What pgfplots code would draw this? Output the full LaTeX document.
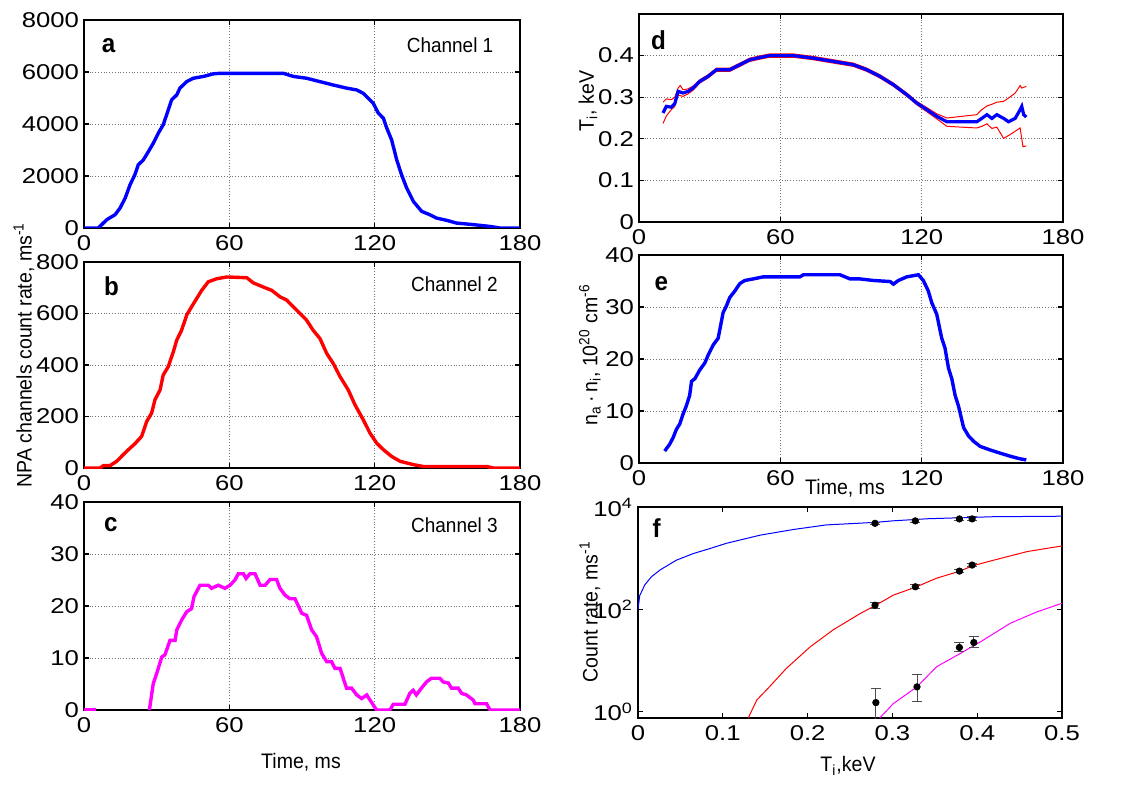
\documentclass[border=0pt]{standalone}
\usepackage{pgfplots}
\pgfplotsset{compat=1.18}
\usepackage{fontspec}
\setmainfont{Liberation Sans}[FakeStretch=0.93]
\newfontfamily\tickfont{Liberation Sans}[FakeStretch=1.2]
\definecolor{mblue}{RGB}{0,0,255}
\definecolor{mred}{RGB}{255,0,0}
\definecolor{mmag}{RGB}{255,0,255}
\pgfplotsset{
  mat/.style={
    scale only axis,
    axis line style={line width=0.7pt},
    tick style={black, line width=0.6pt},
    major tick length=2.5pt,
    tick align=inside,
    tick pos=both,
    ticklabel pos=left,
    grid=major,
    grid style={densely dotted, black!55, line width=0.45pt},
    ticklabel style={font=\tickfont\fontsize{10.7}{12}\selectfont},
    /pgf/number format/assume math mode=true,
    /pgf/number format/1000 sep={},
    scaled ticks=false,
    xtick={0,60,120,180}, xmin=0, xmax=180,
    yticklabel style={xshift=1pt},
  },
}
\newcommand{\lab}{\fontsize{10.5}{12}\selectfont}
\newcommand{\pl}{\fontsize{13}{15}\selectfont\bfseries}
\newcommand{\ch}{\fontsize{10.2}{12}\selectfont}
\begin{document}
\begin{tikzpicture}
\useasboundingbox (0,0) rectangle (567pt,-393pt);

% ---------- panel a ----------
\begin{axis}[mat, at={(42pt,-114pt)}, anchor=south west, width=218pt, height=104pt,
  ymin=0, ymax=8000, ytick={0,2000,4000,6000,8000}]
\addplot[mblue, line width=1.7pt] coordinates {
(0,0)(5.9,0)(9.4,320)(12.8,510)(14.9,770)(17,1150)(19,1660)(21,2050)(22.4,2430)(24.5,2620)
(26.6,2940)(28.6,3260)(30.7,3650)(32.7,3970)(34.1,4350)(36.2,4930)(38.3,5120)(39.6,5380)
(42.4,5630)(45.1,5760)(49.3,5830)(53.4,5930)(56.1,5950)(82.3,5950)(86.4,5830)(91.9,5760)
(97.4,5630)(102.9,5500)(108.4,5380)(112.6,5310)(115.3,5180)(119.4,4800)(121.5,4420)
(123.6,4220)(125,3840)(127,3390)(129.1,2620)(131.1,2050)(133.2,1540)(136,1020)(139.4,640)
(142.8,510)(145.6,380)(149.7,295)(153.8,190)(160.7,130)(167.6,60)(171.7,0)(180,0)};
\node[font=\pl, anchor=west] at (rel axis cs:0.025,0.875) {a};
\node[font=\ch, anchor=east] at (rel axis cs:0.955,0.88) {Channel 1};
\end{axis}

% ---------- panel b ----------
\begin{axis}[mat, at={(42pt,-234pt)}, anchor=south west, width=218pt, height=103pt,
  ymin=0, ymax=800, ytick={0,200,400,600,800}]
\addplot[mred, line width=1.7pt] coordinates {
(0,0)(6.6,0)(8,9)(10.7,9)(13.5,26)(16.2,52)(19,77)(21,94)(23.8,123)(25.9,181)(27.9,213)
(29.3,265)(31.4,303)(32.7,361)(34.8,394)(36.9,452)(38.3,497)(40.3,535)(42.4,594)(44.4,626)
(46.5,658)(48.6,690)(51.3,723)(54.8,735)(58.9,742)(67.2,739)(69.9,719)(74,703)(77.5,690)
(80.9,665)(83.7,652)(86.4,626)(89.2,600)(91.9,574)(94.6,535)(97.4,503)(100.2,445)
(102.9,406)(105.7,355)(109.1,303)(111.9,245)(115.3,187)(118.1,135)(120.8,97)(123.6,71)
(127,45)(130.5,26)(136,13)(140.1,6)(166.2,6)(169,0)(180,0)};
\node[font=\pl, anchor=west] at (rel axis cs:0.03,0.885) {b};
\node[font=\ch, anchor=east] at (rel axis cs:0.965,0.89) {Channel 2};
\end{axis}

% ---------- panel c ----------
\begin{axis}[mat, at={(42pt,-355pt)}, anchor=south west, width=218pt, height=104pt,
  ymin=0, ymax=40, ytick={0,10,20,30,40}]
\addplot[mmag, line width=1.7pt] coordinates {(0,0)(5,0)};
\addplot[mmag, line width=1.7pt] coordinates {
(27,0)(28.6,5.1)(30,7)(32.1,10.2)(33.4,10.6)(35.5,13.4)(37.6,13.4)(38.3,15.4)(40.3,17.3)
(42.4,18.9)(44.4,19.5)(45.4,21.8)(47.9,24)(51.3,24)(52.7,23.4)(55.4,24)(58.2,23.4)(60.3,24)
(62.3,25)(63.7,26.2)(65.8,26.2)(66.9,25.3)(68.5,26.2)(70.6,26.2)(72.7,24)(74.8,24)(76.8,25.1)
(79.5,25.1)(80.9,23.4)(83,22.1)(85,21.4)(87.1,21.4)(89.9,18.6)(91.9,18.2)(94,15.4)(96,14.1)
(98.1,10.9)(100.2,9.3)(102.2,9.3)(103.6,8)(105.7,8)(108.4,4.2)(110.5,4.2)(112.6,2.9)
(114.6,2.2)(116.7,2.9)(118.1,1.9)(120.8,0)(126.3,0)(127.7,1.1)(132.5,1.1)(134.5,3.2)
(135.9,3.8)(137.2,2.9)(139.3,4.2)(141.4,5.4)(143.4,6.1)(146.9,6.1)(148.3,5.4)(150.4,5.2)
(151.7,4.2)(154.5,4.2)(155.9,3.2)(157.9,2.9)(160.7,1.9)(161.4,1.2)(166.2,1.2)(167.6,0)(180,0)};
\node[font=\pl, anchor=west] at (rel axis cs:0.03,0.89) {c};
\node[font=\ch, anchor=east] at (rel axis cs:0.965,0.89) {Channel 3};
\end{axis}

% ---------- panel d ----------
\begin{axis}[mat, at={(319.5pt,-111pt)}, anchor=south west, width=212pt, height=104pt,
  ymin=0, ymax=0.5, ytick={0,0.1,0.2,0.3,0.4},
  yticklabels={0,0.1,0.2,0.3,0.4}]
\addplot[mred, line width=0.5pt] coordinates {
(10.2,0.288)(11.6,0.296)(13.7,0.294)(15.2,0.300)(16.6,0.322)(17.5,0.328)(18.7,0.318)(20.8,0.320)
(23.0,0.327)(25.8,0.342)(29.3,0.354)(32.9,0.370)(38.5,0.370)(42.8,0.382)(47.0,0.394)(52.7,0.401)
(55.5,0.404)(65.5,0.404)(74.0,0.398)(82.5,0.390)(91.0,0.382)(96.7,0.370)(102.3,0.354)(108.0,0.334)
(113.7,0.310)(117.9,0.290)(122.2,0.275)(126.4,0.260)(130.7,0.250)(143.4,0.258)(145.5,0.270)
(147.7,0.279)(149.8,0.283)(151.9,0.288)(154.8,0.290)(156.9,0.298)(159.7,0.310)(161.8,0.328)
(162.5,0.322)(164.4,0.326)};
\addplot[mred, line width=0.5pt] coordinates {
(10.2,0.237)(11.6,0.255)(13.7,0.270)(15.2,0.278)(16.6,0.305)(18.7,0.302)(20.8,0.308)(23.0,0.317)
(25.8,0.334)(29.3,0.346)(32.9,0.362)(38.5,0.362)(42.8,0.374)(47.0,0.386)(52.7,0.393)(55.5,0.396)
(65.5,0.396)(74.0,0.390)(82.5,0.382)(91.0,0.374)(96.7,0.362)(102.3,0.346)(108.0,0.326)(113.7,0.302)
(117.9,0.282)(122.2,0.265)(126.4,0.248)(130.7,0.230)(143.4,0.226)(145.5,0.230)(147.7,0.236)
(149.8,0.225)(151.9,0.228)(154.8,0.201)(156.9,0.208)(158.3,0.213)(161.8,0.226)(163.0,0.181)
(164.4,0.183)};
\addplot[mblue, line width=1.6pt] coordinates {
(10.2,0.262)(11.6,0.278)(13.7,0.276)(15.2,0.285)(16.6,0.314)(18.7,0.310)(20.8,0.314)(23.0,0.322)
(25.8,0.338)(29.3,0.350)(32.9,0.366)(38.5,0.366)(42.8,0.378)(47.0,0.390)(52.7,0.397)(55.5,0.400)
(65.5,0.400)(74.0,0.394)(82.5,0.386)(91.0,0.378)(96.7,0.366)(102.3,0.350)(108.0,0.330)(113.7,0.306)
(117.9,0.286)(122.2,0.270)(126.4,0.254)(130.7,0.241)(143.4,0.241)(145.5,0.249)(147.7,0.258)
(149.8,0.249)(151.9,0.258)(154.8,0.249)(156.9,0.241)(159.7,0.249)(161.8,0.270)(162.5,0.278)
(163.3,0.258)(164.4,0.252)};
\node[font=\pl, anchor=west] at (rel axis cs:0.012,0.875) {d};
\end{axis}

% ---------- panel e ----------
\begin{axis}[mat, at={(319.5pt,-231.5pt)}, anchor=south west, width=212pt, height=104pt,
  ymin=0, ymax=40, ytick={0,10,20,30,40}]
\addplot[mblue, line width=1.7pt] coordinates {
(10.9,2.3)(13,3.6)(14.5,4.9)(15.9,6.5)(17.3,7.5)(18.7,9.4)(20.1,11)(21.5,13)(22.3,15.7)(23.7,16.2)
(25.8,17.9)(27.9,19.2)(29.4,20.8)(31.5,22.7)(33.6,24)(35.7,28.9)(37.1,30.2)(38.5,31.8)(40.7,33.1)
(42.8,34.5)(44.9,35.1)(48.5,35.4)(52.7,35.8)(68.3,35.8)(69.8,36.2)(85.3,36.2)(89.6,35.4)
(93.8,35.4)(99.5,35.1)(106.6,34.9)(108,34.4)(110.1,35.1)(113.7,35.8)(118.6,36.2)(120.7,35.1)
(122.8,33.1)(124.3,30.8)(126.4,28.6)(128.5,24)(129.9,22.1)(131.4,18.2)(132.8,16.2)(134.2,13)
(135.6,11)(137.8,6.8)(139.9,5.2)(142,4.2)(144.8,3.2)(149.1,2.5)(153.3,1.9)(157.6,1.3)
(161.8,0.8)(164.4,0.6)};
\node[font=\pl, anchor=west] at (rel axis cs:0.02,0.86) {e};
\end{axis}

% ---------- panel f ----------
\begin{axis}[mat, at={(319pt,-359pt)}, anchor=south west, width=212pt, height=105.5pt,
  ymode=log, ymin=0.76, ymax=10000, ytick={1,100,10000},
  yticklabels={10\textsuperscript{0},10\textsuperscript{2},10\textsuperscript{4}},
  yminorticks=false, grid=none,
  xmin=0, xmax=0.5, xtick={0,0.1,0.2,0.3,0.4,0.5},
  xticklabels={0,0.1,0.2,0.3,0.4,0.5}]
\addplot[mblue, line width=0.5pt] coordinates {
(0,100)(0.002,186)(0.008,302)(0.016,437)(0.026,589)(0.045,912)(0.065,1230)(0.085,1549)
(0.104,1950)(0.144,2818)(0.183,3631)(0.222,4467)(0.28,5012)(0.301,5370)(0.341,5888)
(0.38,6166)(0.419,6457)(0.5,6607)};
\addplot[mred, line width=0.5pt] coordinates {
(0.13,0.76)(0.14,1.70)(0.155,3.09)(0.175,7.08)(0.203,18.6)(0.23,39.8)(0.262,83.2)(0.28,120)
(0.301,190)(0.328,275)(0.352,407)(0.38,562)(0.394,708)(0.419,912)(0.459,1349)(0.5,1738)};
\addplot[mmag, line width=0.5pt] coordinates {
(0.285,0.76)(0.301,1.45)(0.329,3.09)(0.352,7.59)(0.38,13.8)(0.404,23.4)(0.439,53.7)
(0.47,89.1)(0.5,132)};
\addplot[black, only marks, mark=*, mark size=1.6pt,
  error bars/.cd, y dir=both, y explicit,
  error bar style={black!70, line width=0.5pt},
  error mark options={rotate=90, mark size=2.5pt, black!70}]
  table[x=x, y=y, y error plus=ep, y error minus=em] {
x y ep em
0.2795 4800 300 300
0.327 5350 300 300
0.379 5850 300 300
0.394 5850 600 400
0.2795 121 15 15
0.327 277 25 25
0.379 560 40 40
0.394 735 40 40
0.2805 1.52 1.34 1.40
0.329 3.08 2.3 1.5
0.379 18.1 4.2 3.2
0.396 22.6 6.6 4.8
};
\node[font=\pl, anchor=west] at (rel axis cs:0.018,0.9) {f};
\end{axis}

% ---------- axis labels ----------
\node[rotate=90, font=\lab] at (12pt,-177.5pt) {NPA channels count rate, ms\textsuperscript{-1}};
\node[font=\lab] at (150.5pt,-381pt) {Time, ms};
\node[rotate=90, font=\lab] at (294pt,-50.5pt) {T\textsubscript{i}, keV};
\node[rotate=90, font=\lab] at (295pt,-177.5pt) {n\textsubscript{a}\,·\,n\textsubscript{i}, 10\textsuperscript{20} cm\textsuperscript{-6}};
\node[font=\lab] at (422.5pt,-244pt) {Time, ms};
\node[rotate=90, font=\lab] at (295pt,-306pt) {Count rate, ms\textsuperscript{-1}};
\node[font=\lab] at (424pt,-383pt) {T\textsubscript{i},keV};
\end{tikzpicture}
\end{document}
